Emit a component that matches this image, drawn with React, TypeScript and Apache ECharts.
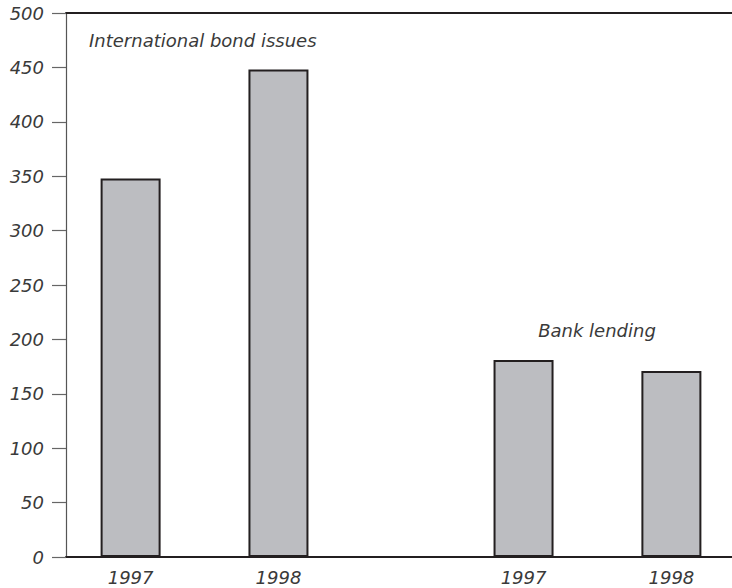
import React, { useEffect, useRef } from "react";
import * as echarts from "echarts";

const yearLabels = ["1997", "1998", "1997", "1998"];
const amounts = [348, 448, 181, 171];
// x-axis slot values (axis units, 0..100)
const slotValues = [9.7, 31.9, 68.7, 90.9];
const groupNames = ["International bond issues", "Bank lending"];
const yTicks = [0, 500, 50];

const FONT = '"DejaVu Sans", sans-serif';
const TEXT_COLOR = "#3a3a3a";
const FS = 18;

export default function App() {
  const ref = useRef<HTMLDivElement>(null);
  useEffect(() => {
    document.body.style.margin = "0";
    if (!ref.current) return;
    const chart = echarts.init(ref.current, null, { renderer: "svg" });
    chart.setOption({
      animation: false,
      backgroundColor: "#ffffff",
      grid: { left: 66, right: 0, top: 13, bottom: 31 },
      xAxis: [
        {
          type: "value",
          min: 0,
          max: 100,
          position: "bottom",
          splitLine: { show: false },
          axisTick: { show: false },
          axisLine: { show: true, onZero: false, lineStyle: { color: "#231f20", width: 2 } },
          axisLabel: {
            customValues: slotValues,
            formatter: (v: number) => {
              const i = slotValues.findIndex((s) => Math.abs(s - v) < 1e-6);
              return i >= 0 ? yearLabels[i] : "";
            },
            margin: 11,
            fontFamily: FONT,
            fontStyle: "italic",
            fontSize: FS,
            color: TEXT_COLOR,
          },
        },
        {
          type: "value",
          min: 0,
          max: 100,
          position: "top",
          splitLine: { show: false },
          axisTick: { show: false },
          axisLabel: { show: false },
          axisLine: { show: true, onZero: false, lineStyle: { color: "#231f20", width: 2 } },
        },
      ],
      yAxis: {
        type: "value",
        min: yTicks[0],
        max: yTicks[1],
        interval: yTicks[2],
        splitLine: { show: false },
        axisLine: { show: true, lineStyle: { color: "#555555", width: 1.2 } },
        axisTick: { show: true, inside: false, length: 14, lineStyle: { color: "#666666", width: 1.2 } },
        axisLabel: {
          margin: 22,
          fontFamily: FONT,
          fontStyle: "italic",
          fontSize: FS,
          color: TEXT_COLOR,
        },
      },
      series: [
        {
          type: "bar",
          xAxisIndex: 0,
          barWidth: 60,
          data: amounts.map((v, i) => [slotValues[i], v]),
          itemStyle: { color: "#bcbdc1", borderColor: "#231f20", borderWidth: 2 },
        },
      ],
      graphic: [
        {
          type: "text",
          x: 89,
          y: 40,
          style: {
            text: groupNames[0],
            font: `italic ${FS}px ${FONT}`,
            fill: TEXT_COLOR,
            textAlign: "left",
            textVerticalAlign: "middle",
          },
        },
        {
          type: "text",
          x: 597,
          y: 330,
          style: {
            text: groupNames[1],
            font: `italic ${FS}px ${FONT}`,
            fill: TEXT_COLOR,
            textAlign: "center",
            textVerticalAlign: "middle",
          },
        },
      ],
    });
    return () => chart.dispose();
  }, []);
  return <div ref={ref} style={{ width: 732, height: 588 }} />;
}
